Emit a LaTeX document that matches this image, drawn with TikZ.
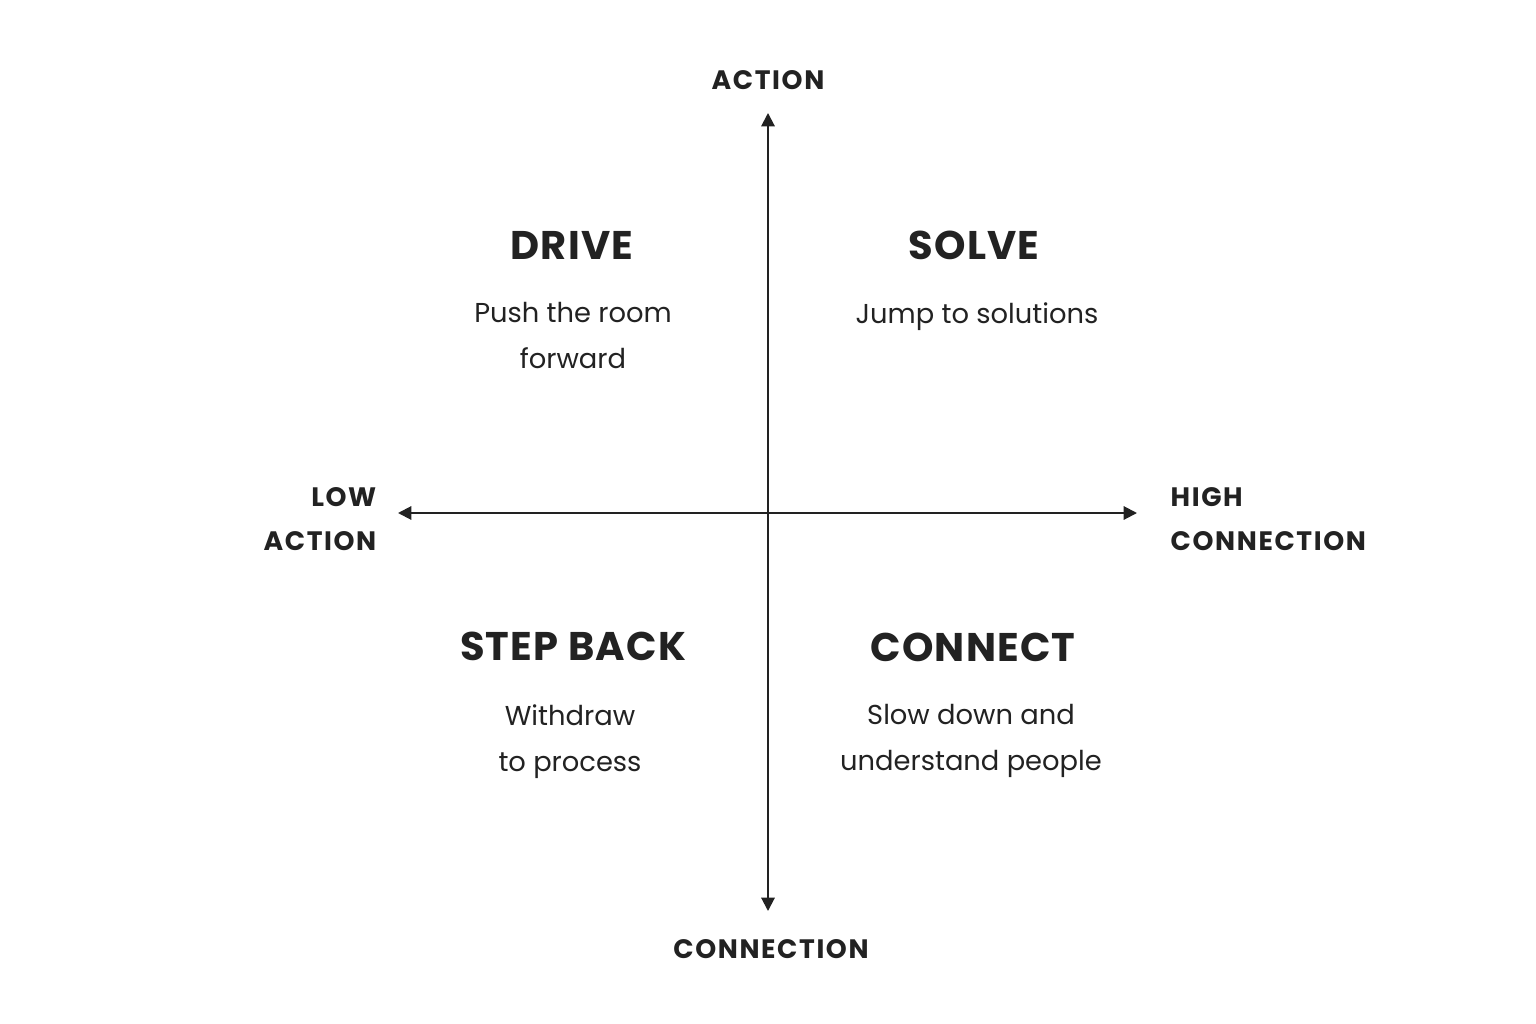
\documentclass[tikz,border=0pt]{standalone}
\usepackage{fontspec}
\setmainfont{Poppins}
\usetikzlibrary{arrows.meta}
\definecolor{ink}{HTML}{222222}
\tikzset{
  axis/.style={draw=ink, line width=1.5pt, -{Triangle[length=10pt,width=10pt]}},
  qtitle/.style={text=ink, font=\fontsize{30}{34}\selectfont\bfseries\addfontfeature{LetterSpace=3}, anchor=base},
  qbody/.style={text=ink, font=\fontsize{20.5}{34.5}\selectfont, align=center, anchor=north},
  axlab/.style={text=ink, font=\fontsize{20}{33}\selectfont\bfseries\addfontfeature{LetterSpace=6}},
}
\begin{document}
\begin{tikzpicture}[x=0.75pt,y=-0.75pt]
\useasboundingbox[fill=white] (0,0) rectangle (1536,1024);
\coordinate (c) at (768,513);
\coordinate (top) at (768,113);
\coordinate (bot) at (768,911);
\coordinate (lft) at (398,513);
\coordinate (rgt) at (1137,513);
\draw[axis] (c) -- (top);
\draw[axis] (c) -- (bot);
\draw[axis] (c) -- (lft);
\draw[axis] (c) -- (rgt);

\node[axlab, anchor=base] (actl) at (768,90) {ACTION};
\node[axlab, anchor=base] (conl) at (771,958) {CONNECTION};
\node[axlab, anchor=north east, align=right] (lowl) at (381,483) {LOW\\ACTION};
\node[axlab, anchor=north west, align=left] (highl) at (1166,483) {HIGH\\CONNECTION};

\node[qtitle] (drive) at (572,259) {DRIVE};
\node[qbody] (drivet) at (573,298) {Push the room\\forward};
\node[qtitle] (solve) at (974,259) {SOLVE};
\node[qbody] (solvet) at (977,298) {Jump to solutions};
\node[qtitle] (step) at (573,660) {STEP BACK};
\node[qbody] (stept) at (570,700) {Withdraw\\to process};
\node[qtitle] (conn) at (973,661) {CONNECT};
\node[qbody] (connt) at (971,700) {Slow down and\\understand people};
\end{tikzpicture}
\end{document}
